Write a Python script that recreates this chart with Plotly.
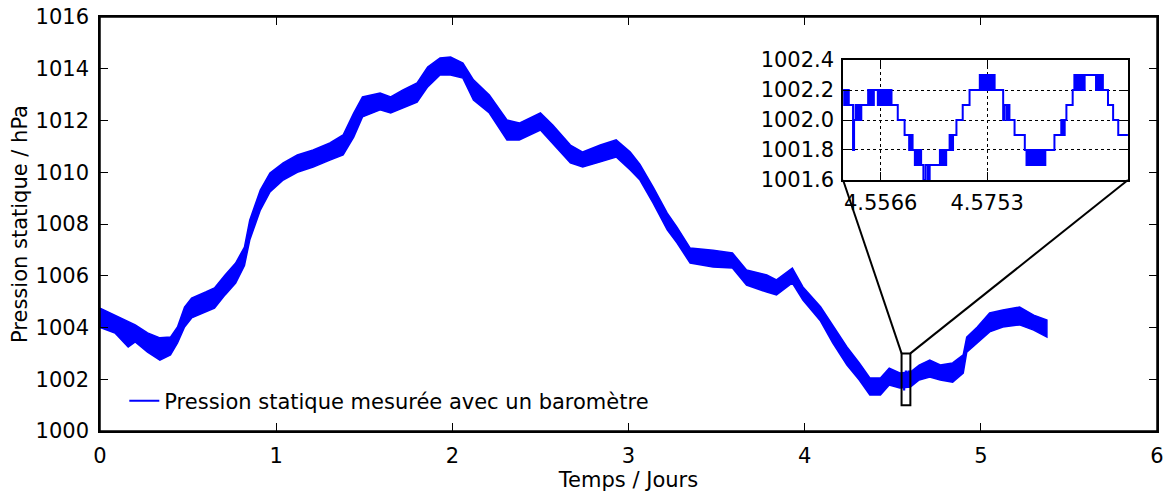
import plotly.graph_objects as go

# ---------------- data ----------------
days = [0.00, 0.085, 0.16, 0.20, 0.27, 0.34, 0.40, 0.44, 0.48, 0.52, 0.60, 0.65, 0.71,
        0.77, 0.82, 0.85, 0.91, 0.965, 1.04, 1.12, 1.21, 1.305, 1.38, 1.44, 1.49, 1.59,
        1.65, 1.72, 1.80, 1.86, 1.93, 1.99, 2.06, 2.12, 2.21, 2.31, 2.38, 2.50, 2.57,
        2.67, 2.74, 2.84, 2.93, 3.01, 3.065, 3.14, 3.22, 3.275, 3.35, 3.48, 3.59, 3.67,
        3.785, 3.84, 3.93, 3.99, 4.09, 4.16, 4.24, 4.31, 4.37, 4.43, 4.48, 4.54, 4.60,
        4.65, 4.71, 4.77, 4.84, 4.90, 4.92, 4.98, 5.05, 5.125, 5.22, 5.30, 5.375]
upper = [1004.75, 1004.48, 1004.21, 1004.10, 1003.79, 1003.60, 1003.63, 1004.02, 1004.79,
         1005.14, 1005.37, 1005.53, 1006.03, 1006.49, 1007.11, 1008.15, 1009.31, 1009.97,
         1010.36, 1010.67, 1010.86, 1011.13, 1011.44, 1012.29, 1012.91, 1013.06, 1012.91,
         1013.18, 1013.45, 1014.07, 1014.42, 1014.45, 1014.22, 1013.57, 1012.99, 1012.02,
         1011.90, 1012.29, 1011.83, 1011.05, 1010.78, 1011.05, 1011.25, 1010.78, 1010.30,
         1009.43, 1008.42, 1007.88, 1007.07, 1006.99, 1006.88, 1006.22, 1006.03, 1005.84,
         1006.30, 1005.57, 1004.80, 1004.10, 1003.25, 1002.63, 1002.05, 1002.05, 1002.43,
         1002.24, 1002.28, 1002.55, 1002.74, 1002.55, 1002.63, 1002.94, 1003.63, 1004.02,
         1004.56, 1004.68, 1004.79, 1004.48, 1004.29]
lower = [1004.00, 1003.79, 1003.25, 1003.44, 1003.05, 1002.74, 1002.94, 1003.40, 1004.02,
         1004.37, 1004.60, 1004.75, 1005.26, 1005.72, 1006.40, 1007.38, 1008.54, 1009.24,
         1009.70, 1010.00, 1010.20, 1010.47, 1010.67, 1011.36, 1012.14, 1012.41, 1012.29,
         1012.48, 1012.71, 1013.30, 1013.76, 1013.76, 1013.64, 1012.79, 1012.29, 1011.25,
         1011.25, 1011.63, 1011.13, 1010.36, 1010.20, 1010.40, 1010.59, 1010.09, 1009.70,
         1008.81, 1007.77, 1007.27, 1006.49, 1006.34, 1006.30, 1005.64, 1005.37, 1005.26,
         1005.72, 1005.06, 1004.25, 1003.40, 1002.55, 1001.97, 1001.39, 1001.39, 1001.78,
         1001.66, 1001.70, 1001.97, 1002.09, 1001.97, 1001.89, 1002.24, 1003.05, 1003.40,
         1003.83, 1004.02, 1004.10, 1003.90, 1003.63]

zoom_t = [4.5500, 4.5502, 4.5504, 4.5506, 4.5508, 4.5510, 4.55175, 4.55193, 4.5522, 4.5524,
          4.5527, 4.5529, 4.5532, 4.5544, 4.5546, 4.5549, 4.5551, 4.5554, 4.5561, 4.5564,
          4.5566, 4.5569, 4.5571, 4.5573, 4.5576, 4.5578, 4.5581, 4.5583, 4.5585, 4.5596,
          4.5608, 4.5616, 4.5619, 4.5622, 4.5626, 4.5629, 4.5632, 4.5634, 4.5637, 4.5641,
          4.5645, 4.5649, 4.5652, 4.5670, 4.5672, 4.5675, 4.5678, 4.5681, 4.5687, 4.5690,
          4.5693, 4.5699, 4.5710, 4.5722, 4.5740, 4.5743, 4.5746, 4.5749, 4.5751, 4.5754,
          4.5757, 4.5760, 4.5763, 4.5766, 4.5781, 4.5783, 4.5787, 4.5790, 4.5792, 4.5801,
          4.5819, 4.5822, 4.5825, 4.5828, 4.5831, 4.5834, 4.5837, 4.5840, 4.5843, 4.5846,
          4.5849, 4.5852, 4.5855, 4.5871, 4.5883, 4.5886, 4.5889, 4.5892, 4.5903, 4.5906,
          4.5909, 4.5912, 4.5915, 4.5918, 4.5921, 4.5924, 4.5944, 4.5947, 4.5950, 4.5953,
          4.5956, 4.5965, 4.5974, 4.5983, 4.6000]
zoom_p = [1002.2, 1002.1, 1002.2, 1002.1, 1002.2, 1002.1, 1001.8, 1002.0, 1002.1, 1002.0,
          1002.1, 1002.0, 1002.1, 1002.2, 1002.1, 1002.2, 1002.1, 1002.2, 1002.1, 1002.2,
          1002.1, 1002.2, 1002.1, 1002.2, 1002.1, 1002.2, 1002.1, 1002.2, 1002.1, 1002.0,
          1001.9, 1001.8, 1001.9, 1001.8, 1001.7, 1001.8, 1001.7, 1001.8, 1001.7, 1001.6,
          1001.7, 1001.6, 1001.7, 1001.8, 1001.7, 1001.8, 1001.7, 1001.8, 1001.9, 1001.8,
          1001.9, 1002.0, 1002.1, 1002.2, 1002.3, 1002.2, 1002.3, 1002.2, 1002.3, 1002.2,
          1002.3, 1002.2, 1002.3, 1002.2, 1002.0, 1002.1, 1002.0, 1002.1, 1002.0, 1001.9,
          1001.8, 1001.7, 1001.8, 1001.7, 1001.8, 1001.7, 1001.8, 1001.7, 1001.8, 1001.7,
          1001.8, 1001.7, 1001.8, 1001.9, 1002.0, 1001.9, 1002.0, 1002.1, 1002.2, 1002.3,
          1002.2, 1002.3, 1002.2, 1002.3, 1002.2, 1002.3, 1002.2, 1002.3, 1002.2, 1002.3,
          1002.2, 1002.1, 1002.0, 1001.9, 1001.9]

x_ticks = [0, 1, 2, 3, 4, 5, 6]
y_ticks = [1000, 1002, 1004, 1006, 1008, 1010, 1012, 1014, 1016]
inset_x_ticks = [4.5566, 4.5753]
inset_y_ticks = [1001.6, 1001.8, 1002.0, 1002.2, 1002.4]
main_x_range = [0, 6]
main_y_range = [1000, 1016]
inset_x_range = [4.55, 4.60]
inset_y_range = [1001.6, 1002.4]
box_y = [1001, 1003]
legend_label = "Pression statique mesurée avec un baromètre"

# ---------------- figure ----------------
BLUE = "#0000ff"
FONT = "DejaVu Sans"
FS = 21
inset_dom_x = [0.703, 0.9725]
inset_dom_y = [0.6063, 0.8961]

fig = go.Figure()
fig.add_trace(go.Scatter(
    x=days + days[::-1], y=upper + lower[::-1], fill="toself",
    fillcolor=BLUE, line=dict(color=BLUE, width=1.5), mode="lines",
    showlegend=False, hoverinfo="skip", xaxis="x", yaxis="y"))
fig.add_trace(go.Scatter(
    x=zoom_t, y=zoom_p, mode="lines", line=dict(color=BLUE, width=2, shape="hv"),
    name=legend_label, showlegend=True, xaxis="x", yaxis="y"))
fig.add_trace(go.Scatter(
    x=zoom_t, y=zoom_p, mode="lines", line=dict(color=BLUE, width=2, shape="hv"),
    showlegend=False, xaxis="x2", yaxis="y2"))

axis_common = dict(showline=True, linecolor="black", linewidth=1.5,
                   ticks="inside", ticklen=8, tickwidth=1, tickcolor="black",
                   zeroline=False, automargin=False, ticklabeloverflow="allow",
                   tickfont=dict(family=FONT, size=FS, color="black"))

fig.update_layout(
    width=1168, height=492,
    margin=dict(l=100, r=11, t=17, b=61),
    paper_bgcolor="white", plot_bgcolor="white",
    font=dict(family=FONT, size=FS, color="black"),
    xaxis=dict(range=main_x_range, tickvals=x_ticks, showgrid=False, domain=[0, 1],
               mirror="ticks",
               title=dict(text="Temps / Jours", standoff=8, font=dict(size=FS)),
               ticklabelstandoff=5, **axis_common),
    yaxis=dict(range=main_y_range, tickvals=y_ticks, showgrid=False, domain=[0, 1],
               mirror="ticks",
               title=dict(text="Pression statique / hPa", standoff=2, font=dict(size=FS)),
               ticklabelstandoff=5, **axis_common),
    xaxis2=dict(range=inset_x_range, tickvals=inset_x_ticks, ticktext=[str(v) for v in inset_x_ticks],
                domain=inset_dom_x, anchor="y2", showgrid=True, gridcolor="black", mirror="ticks",
                griddash="dot", gridwidth=1, ticklabelstandoff=3, **axis_common),
    yaxis2=dict(range=inset_y_range, tickvals=inset_y_ticks, tickformat=".1f",
                domain=inset_dom_y, anchor="x2", showgrid=True, gridcolor="black", mirror="ticks",
                griddash="dot", gridwidth=1, ticklabelstandoff=3, **axis_common),
    legend=dict(x=0.023, y=0.072, xanchor="left", yanchor="middle", bgcolor="rgba(0,0,0,0)",
                font=dict(family=FONT, size=FS)),
    showlegend=True,
)

# frame of the main axes (top and right edges)
fig.add_shape(type="rect", xref="x domain", yref="y domain", x0=0, x1=1, y0=0, y1=1,
              line=dict(color="black", width=1.5), layer="above")

# zoom rectangle on the main axes
fig.add_shape(type="rect", xref="x", yref="y", x0=inset_x_range[0], x1=inset_x_range[1],
              y0=box_y[0], y1=box_y[1], line=dict(color="black", width=2))

# connectors from rectangle to inset corners (inset corners converted to main data coords)
def paper_to_x(px):
    return main_x_range[0] + px * (main_x_range[1] - main_x_range[0])

def paper_to_y(py):
    return main_y_range[0] + py * (main_y_range[1] - main_y_range[0])

fig.add_shape(type="line", xref="x", yref="y", x0=inset_x_range[0], y0=box_y[1],
              x1=paper_to_x(inset_dom_x[0]), y1=paper_to_y(inset_dom_y[0]),
              line=dict(color="black", width=2))
fig.add_shape(type="line", xref="x", yref="y", x0=inset_x_range[1], y0=box_y[1],
              x1=paper_to_x(inset_dom_x[1]), y1=paper_to_y(inset_dom_y[0]),
              line=dict(color="black", width=2))

# remove the default page margin so the figure fills the window exactly
fig.write_html("out.html", config={"displayModeBar": False},
               post_script="document.body.style.margin='0';")
